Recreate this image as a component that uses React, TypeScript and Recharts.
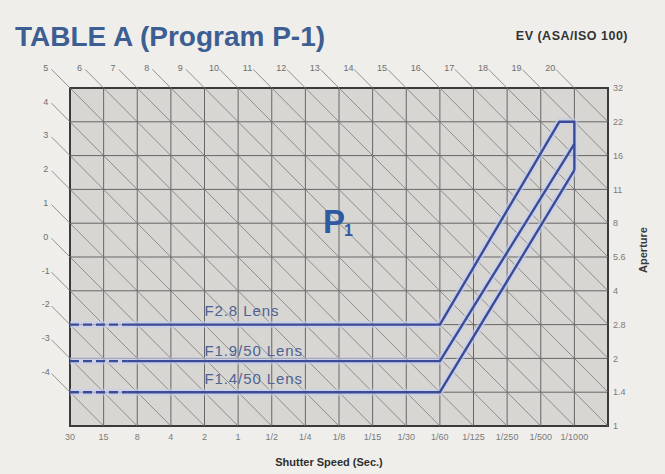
import { CartesianGrid, Line, LineChart, ReferenceArea, ReferenceDot, ReferenceLine, XAxis, YAxis } from 'recharts'

// shutter speed steps (one column each), aperture stops (one row each)
const shutterLabels = ['30', '15', '8', '4', '2', '1', '1/2', '1/4', '1/8', '1/15', '1/30', '1/60', '1/125', '1/250', '1/500', '1/1000']
const shutterTicks = [0, 1, 2, 3, 4, 5, 6, 7, 8, 9, 10, 11, 12, 13, 14, 15]
const apertureLabels = ['1', '1.4', '2', '2.8', '4', '5.6', '8', '11', '16', '22', '32']
const apertureTicks = [0, 1, 2, 3, 4, 5, 6, 7, 8, 9, 10]

// EV lines drawn diagonally across the grid
const evValues = [-4, -3, -2, -1, 0, 1, 2, 3, 4, 5, 6, 7, 8, 9, 10, 11, 12, 13, 14, 15, 16, 17, 18, 19, 20]

// program lines (t = shutter step, a = aperture stop)
const f28Dashed = [{ t: 0, a: 3 }, { t: 1.7, a: 3 }]
const f28Line = [{ t: 1.7, a: 3 }, { t: 11, a: 3 }, { t: 14.55, a: 9 }, { t: 15, a: 9 }, { t: 15, a: 7.57 }]
const f19Dashed = [{ t: 0, a: 1.92 }, { t: 1.7, a: 1.92 }]
const f19Line = [{ t: 1.7, a: 1.92 }, { t: 11, a: 1.92 }, { t: 15, a: 8.35 }]
const f14Dashed = [{ t: 0, a: 1 }, { t: 1.7, a: 1 }]
const f14Line = [{ t: 1.7, a: 1 }, { t: 11, a: 1 }, { t: 15, a: 7.57 }]

const lensLabels = [
  { name: 'F2.8 Lens', t: 4, a: 3.43 },
  { name: 'F1.9/50 Lens', t: 4, a: 2.22 },
  { name: 'F1.4/50 Lens', t: 4, a: 1.42 },
]

const COLS = 16
const ROWS = 10
const blue = '#3a4c98'
const font = '"Liberation Sans", Arial, sans-serif'

function diag(ev: number) {
  const s = ev + 5
  const start = s <= ROWS ? { x: 0, y: s } : { x: s - ROWS, y: ROWS }
  const end = s <= COLS ? { x: s, y: 0 } : { x: COLS, y: s - COLS }
  return { start, end }
}

const programSeries = [
  { id: 'f28d', data: f28Dashed, dash: '9 4' },
  { id: 'f28', data: f28Line, dash: undefined },
  { id: 'f19d', data: f19Dashed, dash: '9 4' },
  { id: 'f19', data: f19Line, dash: undefined },
  { id: 'f14d', data: f14Dashed, dash: '9 4' },
  { id: 'f14', data: f14Line, dash: undefined },
]

export default function App() {
  return (
    <div style={{ position: 'absolute', left: 0, top: 0, width: 665, height: 474, background: '#f0eeea', fontFamily: font }}>
      <LineChart width={665} height={474} margin={{ top: 88, right: 17, bottom: 26, left: 70 }}>
        <CartesianGrid stroke="#666" strokeWidth={1} fill="#d8d6d2" fillOpacity={1} />
        <XAxis
          type="number"
          dataKey="t"
          domain={[0, COLS]}
          ticks={shutterTicks}
          tickFormatter={(v: number) => shutterLabels[v]}
          interval={0}
          allowDataOverflow
          axisLine={false}
          tickLine={false}
          tickSize={0}
          tickMargin={8}
          height={22}
          tick={{ fontSize: 9, fill: '#7a7a7a', fontFamily: font }}
        />
        <YAxis
          type="number"
          orientation="right"
          domain={[0, ROWS]}
          ticks={apertureTicks}
          tickFormatter={(v: number) => apertureLabels[v]}
          interval={0}
          allowDataOverflow
          axisLine={false}
          tickLine={false}
          tickSize={0}
          tickMargin={5}
          width={40}
          tick={{ fontSize: 9, fill: '#7a7a7a', fontFamily: font, textAnchor: 'start' }}
        />
        {evValues.map((ev) => {
          const { start, end } = diag(ev)
          return (
            <ReferenceLine
              key={`ev${ev}`}
              segment={[{ x: start.x - 0.55, y: start.y + 0.55 }, end]}
              stroke="#7a7a7a"
              strokeWidth={0.8}
              ifOverflow="visible"
            />
          )
        })}
        {evValues.map((ev) => {
          const { start } = diag(ev)
          return (
            <ReferenceDot
              key={`evl${ev}`}
              x={start.x - 0.72}
              y={start.y + 0.6}
              r={0}
              ifOverflow="visible"
              shape={(p: any) => (
                <text x={p.cx} y={p.cy} textAnchor="middle" dominantBaseline="central" fontSize={9} fill="#6e6e6e" fontFamily={font}>
                  {ev}
                </text>
              )}
            />
          )
        })}
        <ReferenceArea x1={0} x2={COLS} y1={0} y2={ROWS} fill="none" fillOpacity={0} stroke="#3a3a3a" strokeWidth={2} ifOverflow="visible" />
        {programSeries.map((s) => (
          <Line
            key={`g${s.id}`}
            data={s.data}
            dataKey="a"
            type="linear"
            stroke="#c6cdee"
            strokeOpacity={0.6}
            strokeWidth={7}
            dot={false}
            activeDot={false}
            isAnimationActive={false}
          />
        ))}
        {programSeries.map((s) => (
          <Line
            key={s.id}
            data={s.data}
            dataKey="a"
            type="linear"
            stroke={blue}
            strokeWidth={2.4}
            strokeDasharray={s.dash}
            strokeLinejoin="round"
            dot={false}
            activeDot={false}
            isAnimationActive={false}
          />
        ))}
        {lensLabels.map((l) => (
          <ReferenceDot
            key={l.name}
            x={l.t}
            y={l.a}
            r={0}
            ifOverflow="visible"
            shape={(p: any) => (
              <text x={p.cx} y={p.cy} dominantBaseline="central" fontSize={15} letterSpacing={0.9} fill="#4d6394" fontFamily={font}>
                {l.name}
              </text>
            )}
          />
        ))}
      </LineChart>
      <svg width={665} height={474} style={{ position: 'absolute', left: 0, top: 0, pointerEvents: 'none' }}>
        <text x={15} y={46} fontSize={28} fontWeight="bold" fill="#3d5e93" fontFamily={font}>
          TABLE A (Program P-1)
        </text>
        <text x={628} y={40} textAnchor="end" fontSize={12.5} fontWeight="bold" letterSpacing={0.5} fill="#333" fontFamily={font}>
          EV (ASA/ISO 100)
        </text>
        <text x={329} y={466} textAnchor="middle" fontSize={11} fontWeight="bold" fill="#2e2e2e" fontFamily={font}>
          Shutter Speed (Sec.)
        </text>
        <text x={647} y={250} textAnchor="middle" fontSize={11} fontWeight="bold" fill="#3a3a3a" fontFamily={font} transform="rotate(-90 647 250)">
          Aperture
        </text>
        <text x={323} y={233} fontSize={33} fontWeight="bold" fill="#2f5aa2" fontFamily={font}>
          P
        </text>
        <text x={344} y={236} fontSize={16} fontWeight="bold" fill="#2f5aa2" fontFamily={font}>
          1
        </text>
      </svg>
    </div>
  )
}
